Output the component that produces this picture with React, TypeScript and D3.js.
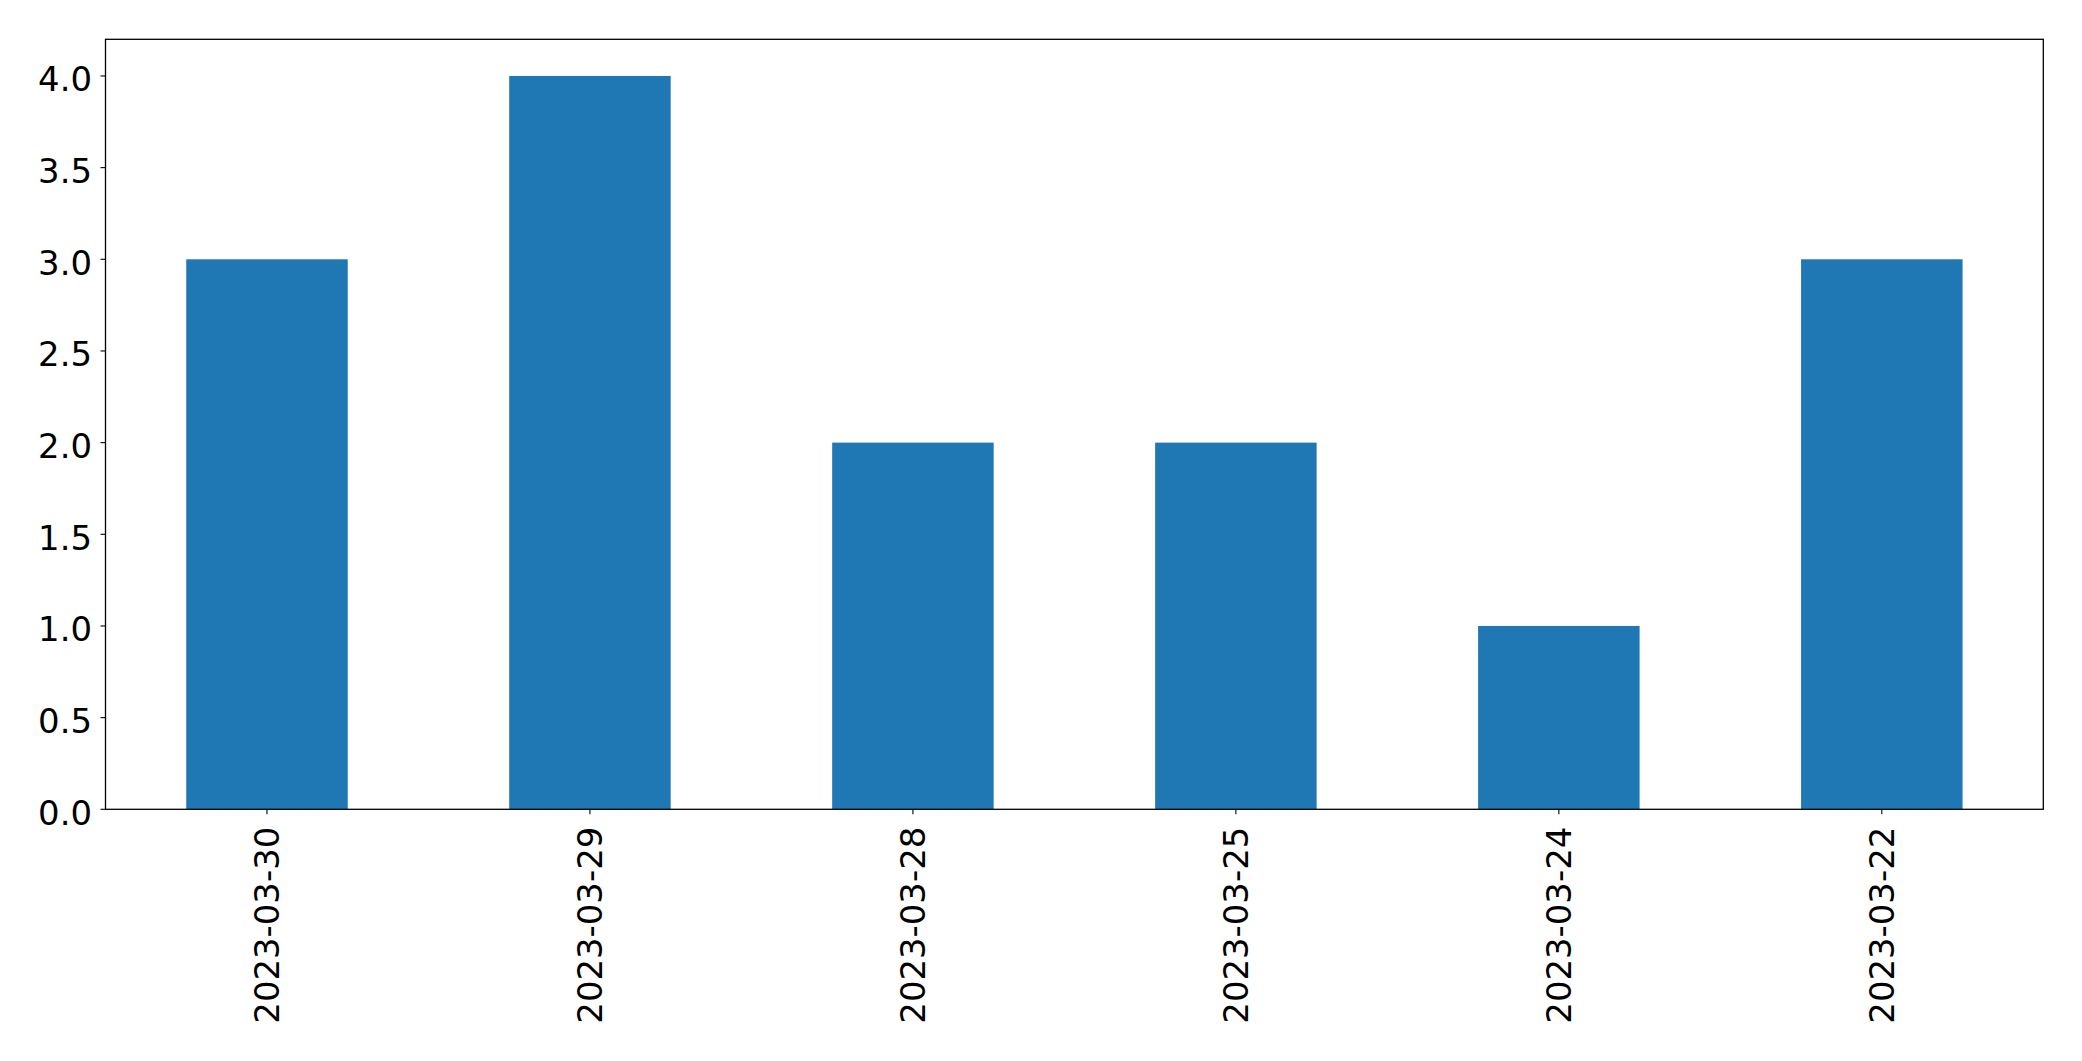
import React from "react";
import * as d3 from "d3";

const categories: string[] = ["2023-03-30", "2023-03-29", "2023-03-28", "2023-03-25", "2023-03-24", "2023-03-22"];
const values: number[] = [3, 4, 2, 2, 1, 3];
const yTicks: number[] = [0, 0.5, 1, 1.5, 2, 2.5, 3, 3.5, 4];

const W = 2082;
const H = 1061;
const left = 105.5;
const right = 2043.3;
const top = 39.3;
const bottom = 809.3;
const FONT = "'DejaVu Sans', sans-serif";
const FS = 33.9;

export default function App() {
  const x = d3.scaleLinear().domain([-0.5, categories.length - 0.5]).range([left, right]);
  const y = d3.scaleLinear().domain([0, 4.2]).range([bottom, top]);
  const barW = x(0.25) - x(-0.25);

  return (
    <svg width={W} height={H} style={{ position: "absolute", left: 0, top: 0, background: "#fff" }}>
      <rect x={0} y={0} width={W} height={H} fill="#fff" />
      {values.map((v, i) => (
        <rect key={i} x={x(i) - barW / 2} y={y(v)} width={barW} height={y(0) - y(v)} fill="#1f77b4" />
      ))}
      <rect x={left} y={top} width={right - left} height={bottom - top} fill="none" stroke="#000" strokeWidth={1.3} />
      {yTicks.map((t) => (
        <g key={t}>
          <line x1={left - 5} x2={left} y1={y(t)} y2={y(t)} stroke="#000" strokeWidth={1.1} />
          <text x={92} y={y(t) + 15.2} textAnchor="end" fontFamily={FONT} fontSize={FS} fill="#000">
            {t.toFixed(1)}
          </text>
        </g>
      ))}
      {categories.map((c, i) => (
        <g key={c}>
          <line x1={x(i)} x2={x(i)} y1={bottom} y2={bottom + 5} stroke="#000" strokeWidth={1.1} />
          <text
            transform={`translate(${x(i) + 12.4}, 826.7) rotate(-90)`}
            textAnchor="end"
            fontFamily={FONT}
            fontSize={FS}
            fill="#000"
          >
            {c}
          </text>
        </g>
      ))}
    </svg>
  );
}
